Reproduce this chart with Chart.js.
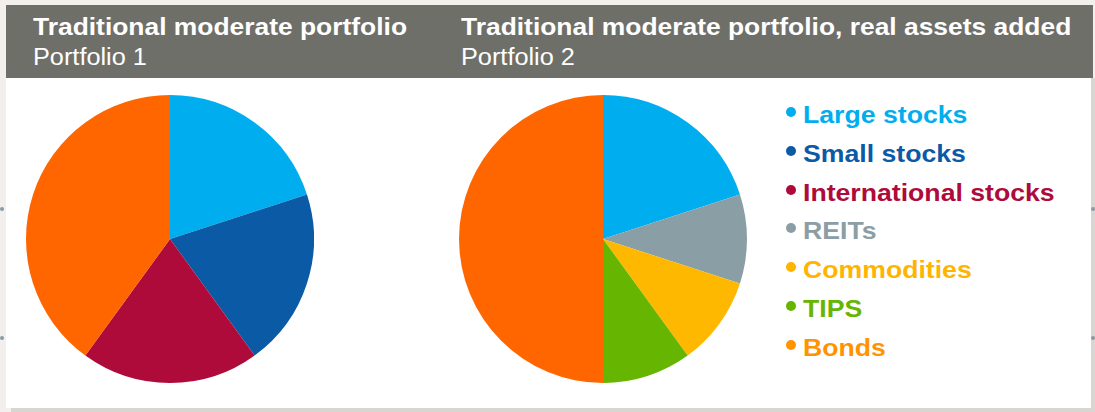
<!DOCTYPE html>
<html>
<head>
<meta charset="utf-8">
<script src="https://cdn.jsdelivr.net/npm/chart.js@4.4.1/dist/chart.umd.min.js"></script>
<style>
  html, body { margin:0; padding:0; }
  body { width:1095px; height:412px; background:#f2efec; position:relative; overflow:hidden; font-family:"Liberation Sans", Arial, sans-serif; }
  .panel { position:absolute; left:6px; top:5px; width:1085px; height:403px; background:#ffffff; }
  .shadowB { position:absolute; left:11px; top:408px; width:1084px; height:4px; background:#d9d6d2; }
  .shadowR { position:absolute; left:1091px; top:78px; width:4px; height:334px; background:#d9d6d2; }
  .header { position:absolute; left:6px; top:5px; width:1087px; height:73px; background:#6f6f69; }
  .t { position:absolute; color:#ffffff; white-space:nowrap; transform-origin:0 0; transform:scaleX(1.1); line-height:24px; }
  .t.b { font-weight:bold; font-size:24px; }
  .t.r { font-weight:normal; font-size:23px; }
  canvas { position:absolute; }
  .leg { position:absolute; left:786px; top:100px; }
  .row { position:absolute; left:0; white-space:nowrap; height:30px; }
  .dot { position:absolute; left:0; width:10px; height:10px; border-radius:50%; }
  .lab { position:absolute; left:17px; font-weight:bold; font-size:24px; line-height:24px; transform-origin:0 0; transform:scaleX(1.11); }
  .gdot { position:absolute; width:4px; height:4px; border-radius:50%; background:#8a9aa3; }
</style>
</head>
<body>
<div class="panel"></div>
<div class="shadowB"></div>
<div class="shadowR"></div>
<div class="header"></div>
<div class="gdot" style="left:0px;top:207px"></div>
<div class="gdot" style="left:0px;top:336px"></div>
<div class="gdot" style="left:1091px;top:207px"></div>
<div class="gdot" style="left:1091px;top:336px"></div>
<div id="titles"></div>
<canvas id="c1" width="288" height="288" style="left:26px;top:95px;width:288px;height:288px"></canvas>
<canvas id="c2" width="288" height="288" style="left:459px;top:95px;width:288px;height:288px"></canvas>
<div class="leg" id="leg"></div>
<script>
const categories = ["Large stocks", "Small stocks", "International stocks", "REITs", "Commodities", "TIPS", "Bonds"];
const portfolio1 = [20, 20, 20, 0, 0, 0, 40];
const portfolio2 = [20, 0, 0, 10, 10, 10, 50];
const sliceColors = ["#00aeef", "#0b5aa5", "#ae0a3a", "#8a9fa5", "#ffb800", "#66b500", "#ff6600"];
const legendColors = ["#00aeef", "#0c5aa6", "#ae0a3a", "#8c9ea5", "#ffb400", "#66b500", "#ff9400"];
const titles = ["Traditional moderate portfolio", "Traditional moderate portfolio, real assets added"];
const subtitles = ["Portfolio 1", "Portfolio 2"];

const titleX = [33, 461];
const tdiv = document.getElementById('titles');
titles.forEach((t, i) => {
  const a = document.createElement('div');
  a.className = 't b'; a.textContent = t;
  a.style.left = titleX[i] + 'px'; a.style.top = '15px';
  tdiv.appendChild(a);
  const b = document.createElement('div');
  b.className = 't r'; b.textContent = subtitles[i];
  b.style.left = titleX[i] + 'px'; b.style.top = '45px';
  tdiv.appendChild(b);
});

const leg = document.getElementById('leg');
categories.forEach((c, i) => {
  const r = document.createElement('div');
  r.className = 'row'; r.style.top = (i * 38.8) + 'px';
  const d = document.createElement('div');
  d.className = 'dot'; d.style.background = legendColors[i]; d.style.top = '7px';
  const l = document.createElement('div');
  l.className = 'lab'; l.style.color = legendColors[i]; l.style.top = '3px';
  l.textContent = c;
  r.appendChild(d); r.appendChild(l);
  leg.appendChild(r);
});

function makePie(id, values) {
  new Chart(document.getElementById(id), {
    type: 'pie',
    data: { labels: categories, datasets: [{ data: values, backgroundColor: sliceColors, borderWidth: 0 }] },
    options: {
      responsive: false, maintainAspectRatio: false, animation: false, devicePixelRatio: 1,
      layout: { padding: 0 },
      plugins: { legend: { display: false }, tooltip: { enabled: false } }
    }
  });
}
makePie('c1', portfolio1);
makePie('c2', portfolio2);
</script>
</body>
</html>
